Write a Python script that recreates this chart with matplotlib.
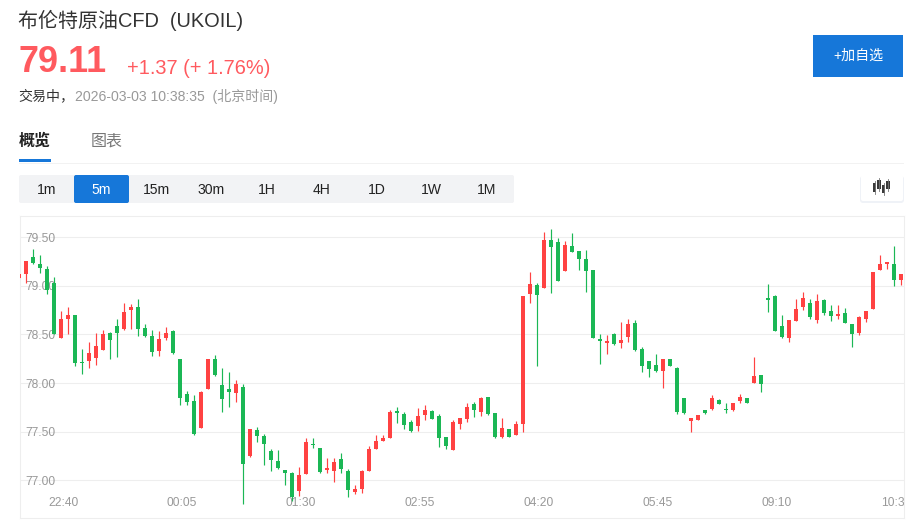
import numpy as np
import matplotlib
matplotlib.use('Agg')
import matplotlib.pyplot as plt
from matplotlib.patches import Rectangle, FancyBboxPatch

plt.rcParams['font.family'] = ['Liberation Sans', 'Noto Sans CJK SC', 'DejaVu Sans']

# 5m candles
opens = [
    79.08, 79.12, 79.30, 79.23, 79.17, 79.03, 78.46, 78.66, 78.70, 78.22,
    78.23, 78.26, 78.34, 78.52, 78.59, 78.56, 78.75, 78.78, 78.57, 78.48,
    78.33, 78.46, 78.54, 78.25, 77.89, 77.82, 77.54, 77.94, 78.25, 77.98,
    77.94, 77.90, 77.96, 77.25, 77.52, 77.46, 77.30, 77.20, 77.11, 77.08,
    76.89, 77.06, 77.37, 77.33, 77.11, 77.10, 77.22, 77.10, 76.88, 76.91,
    77.10, 77.32, 77.40, 77.44, 77.71, 77.68, 77.60, 77.56, 77.67, 77.71,
    77.66, 77.45, 77.31, 77.58, 77.63, 77.78, 77.70, 77.86, 77.69, 77.45,
    77.53, 77.47, 77.58, 78.92, 79.01, 78.98, 79.47, 79.45, 79.15, 79.41,
    79.36, 79.28, 79.16, 78.45, 78.41, 78.51, 78.41, 78.47, 78.62, 78.35,
    78.23, 78.19, 78.12, 78.25, 78.15, 77.85, 77.61, 77.62, 77.72, 77.73,
    77.83, 77.73, 77.72, 77.82, 77.85, 78.00, 78.08, 78.88, 78.90, 78.59,
    78.46, 78.64, 78.78, 78.82, 78.65, 78.85, 78.74, 78.69, 78.72, 78.61,
    78.52, 78.66, 78.76, 79.16, 79.23, 79.23, 79.06,
]
closes = [
    79.12, 79.26, 79.24, 79.18, 78.96, 78.51, 78.66, 78.70, 78.21, 78.21,
    78.31, 78.38, 78.50, 78.44, 78.52, 78.73, 78.78, 78.56, 78.48, 78.32,
    78.45, 78.52, 78.31, 77.85, 77.81, 77.48, 77.91, 78.25, 78.08, 77.84,
    77.91, 77.99, 77.17, 77.53, 77.46, 77.37, 77.21, 77.13, 77.07, 76.83,
    77.05, 77.39, 77.36, 77.09, 77.12, 77.19, 77.12, 76.90, 76.91, 77.10,
    77.32, 77.40, 77.43, 77.70, 77.69, 77.57, 77.51, 77.66, 77.72, 77.63,
    77.44, 77.35, 77.60, 77.64, 77.75, 77.72, 77.85, 77.68, 77.45, 77.54,
    77.45, 77.58, 78.90, 79.02, 78.91, 79.47, 79.40, 79.05, 79.42, 79.35,
    79.28, 79.15, 78.46, 78.43, 78.43, 78.40, 78.44, 78.61, 78.34, 78.18,
    78.14, 78.12, 78.25, 78.18, 77.70, 77.69, 77.64, 77.67, 77.69, 77.85,
    77.78, 77.72, 77.80, 77.86, 77.80, 78.07, 77.99, 78.85, 78.54, 78.47,
    78.65, 78.76, 78.88, 78.68, 78.84, 78.72, 78.69, 78.71, 78.62, 78.51,
    78.68, 78.74, 79.14, 79.23, 79.25, 79.06, 79.12,
]
highs = [
    79.12, 79.26, 79.38, 79.32, 79.20, 79.09, 78.74, 78.78, 78.70, 78.35,
    78.42, 78.52, 78.55, 78.53, 78.66, 78.82, 78.81, 78.87, 78.61, 78.55,
    78.54, 78.58, 78.55, 78.25, 77.92, 77.88, 77.92, 78.25, 78.29, 78.15,
    78.11, 78.03, 77.99, 77.53, 77.55, 77.48, 77.32, 77.31, 77.11, 77.09,
    77.14, 77.44, 77.44, 77.33, 77.23, 77.23, 77.28, 77.12, 76.95, 77.11,
    77.35, 77.47, 77.47, 77.72, 77.75, 77.70, 77.62, 77.74, 77.77, 77.72,
    77.68, 77.45, 77.62, 77.64, 77.79, 77.81, 77.86, 77.86, 77.69, 77.64,
    77.53, 77.61, 78.90, 79.14, 79.03, 79.55, 79.58, 79.49, 79.46, 79.54,
    79.36, 79.37, 79.16, 78.51, 78.49, 78.52, 78.63, 78.66, 78.65, 78.37,
    78.23, 78.30, 78.25, 78.25, 78.17, 77.85, 77.64, 77.67, 77.72, 77.88,
    77.84, 77.80, 77.80, 77.89, 77.85, 78.27, 78.08, 79.02, 78.91, 78.70,
    78.65, 78.86, 78.94, 78.86, 78.92, 78.86, 78.80, 78.80, 78.77, 78.61,
    78.69, 78.74, 79.14, 79.32, 79.25, 79.41, 79.12,
]
lows = [
    79.08, 79.03, 79.22, 79.13, 78.92, 78.50, 78.46, 78.50, 78.18, 78.09,
    78.15, 78.19, 78.34, 78.25, 78.27, 78.55, 78.56, 78.48, 78.47, 78.28,
    78.28, 78.44, 78.30, 77.77, 77.77, 77.47, 77.54, 77.94, 78.07, 77.70,
    77.75, 77.81, 76.76, 77.24, 77.39, 77.16, 77.10, 77.12, 76.95, 76.79,
    76.84, 77.06, 77.33, 77.08, 77.07, 76.98, 77.07, 76.83, 76.86, 76.87,
    77.10, 77.32, 77.40, 77.43, 77.59, 77.53, 77.50, 77.51, 77.62, 77.63,
    77.34, 77.32, 77.31, 77.53, 77.60, 77.65, 77.66, 77.67, 77.44, 77.44,
    77.45, 77.47, 77.50, 78.82, 78.18, 78.98, 78.93, 79.05, 79.15, 79.35,
    79.16, 78.94, 78.46, 78.20, 78.30, 78.39, 78.36, 78.42, 78.33, 78.11,
    78.06, 78.11, 77.95, 78.18, 77.68, 77.68, 77.50, 77.62, 77.68, 77.72,
    77.78, 77.69, 77.71, 77.80, 77.79, 78.00, 77.91, 78.73, 78.54, 78.46,
    78.42, 78.64, 78.75, 78.66, 78.62, 78.70, 78.64, 78.66, 78.62, 78.37,
    78.49, 78.63, 78.76, 79.16, 79.17, 79.00, 79.01,
]

y_ticks = [77.0, 77.5, 78.0, 78.5, 79.0, 79.5]
time_idx = [6, 23, 40, 57, 74, 91, 108, 125]
time_labels = ['22:40', '00:05', '01:30', '02:55', '04:20', '05:45', '09:10', '10:35']
periods = ['1m', '5m', '15m', '30m', '1H', '4H', '1D', '1W', '1M']

W, H = 916, 532
RED = '#ff4242'
GREEN = '#1bb755'
BLUE = '#1677d9'
GREY = '#999999'
px = 0.72  # css px -> pt at dpi 100

fig = plt.figure(figsize=(W / 100, H / 100), dpi=100)

# page furniture, in pixel coordinates
ui = fig.add_axes([0, 0, 1, 1])
ui.set_xlim(0, W)
ui.set_ylim(H, 0)
ui.axis('off')

ui.text(18, 20, '布伦特原油CFD  (UKOIL)', fontsize=20 * px, color='#333333', va='center')
ui.text(18, 63, '79.11', fontsize=36 * px, fontweight='bold', color='#ff5a5f', va='center')
ui.text(127, 68, '+1.37 (+ 1.76%)', fontsize=20 * px, color='#ff5a5f', va='center')
ui.text(18.5, 96, '交易中，', fontsize=14 * px, color='#333333', va='center')
ui.text(75, 96, '2026-03-03 10:38:35  (北京时间)', fontsize=14 * px, color=GREY, va='center')
ui.text(18.5, 141, '概览', fontsize=16 * px, fontweight='bold', color='#222222', va='center')
ui.text(90.5, 141, '图表', fontsize=16 * px, color='#777777', va='center')
ui.add_patch(Rectangle((19, 159), 32, 3, color=BLUE, lw=0, zorder=3))
ui.plot([19, 903], [162.5, 162.5], color='#f2f2f2', lw=1 * px)

ui.add_patch(Rectangle((813, 35), 90, 42, color=BLUE, lw=0))
ui.text(858, 56, '+加自选', fontsize=14 * px, color='white', ha='center', va='center')

# period buttons
ui.add_patch(FancyBboxPatch((19, 175), 495, 28, boxstyle='round,pad=0,rounding_size=2',
                            fc='#f2f3f5', ec='none'))
for i, p in enumerate(periods):
    cx = 46.5 + 55 * i
    if p == '5m':
        ui.add_patch(FancyBboxPatch((74, 175), 55, 28, boxstyle='round,pad=0,rounding_size=2',
                                    fc=BLUE, ec='none'))
    ui.text(cx, 189.5, p, fontsize=14 * px, color='white' if p == '5m' else '#222222',
            ha='center', va='center')

# chart type switch, top right, soft shadow under a white card
ui.add_patch(FancyBboxPatch((860, 176), 44, 27, boxstyle='round,pad=0,rounding_size=3',
                            fc='#eff2f7', ec='none'))
ui.add_patch(FancyBboxPatch((861, 175), 42, 26, boxstyle='round,pad=0,rounding_size=2',
                            fc='white', ec='none'))
for x, t, b in [(874.5, 183, 192), (879, 180, 189), (883.5, 185, 193), (888, 181, 189)]:
    ui.plot([x, x], [t - 2, b + 2], color='#777777', lw=0.6)
    ui.add_patch(Rectangle((x - 1.7, t), 3.4, b - t, color='#3a3a3a', lw=0))

# candles, mapped so the price axis lands where it does in the page
left, right, top, bottom = 19.5, 904, 215.5, 518
ax = fig.add_axes([left / W, 1 - bottom / H, (right - left) / W, (bottom - top) / H])
ax.patch.set_alpha(0)
ax.set_xlim((left - 19) / 7, (right - 19) / 7)
ax.set_ylim(76.612, 79.724)

x = np.arange(len(opens))
o, c, h, l = map(np.array, (opens, closes, highs, lows))
colors = np.where(c > o, RED, GREEN)
ax.set_axisbelow(True)
ax.vlines(x, l, h, colors=colors, lw=0.85, zorder=3)
ax.bar(x, np.maximum(np.abs(c - o), 0.012), bottom=np.minimum(o, c), width=0.58,
       color=colors, lw=0, zorder=3)

ax.set_yticks(y_ticks, [f'{v:.2f}' for v in y_ticks], ha='left')
ax.set_xticks([i + 0.3 for i in time_idx], time_labels)
ax.grid(axis='y', color='#eeeeee', lw=0.75)
ax.tick_params(axis='y', length=0, pad=-4, labelsize=12 * px, labelcolor=GREY)
ax.tick_params(axis='x', length=0, pad=-15, labelsize=12 * px, labelcolor=GREY)
for lab in ax.get_xticklabels():
    lab.set_clip_on(True)
    lab.set_clip_box(ax.bbox)
for s in ax.spines.values():
    s.set_color('#eeeeee')
    s.set_linewidth(0.75)

fig.savefig('out.png', dpi=100)
